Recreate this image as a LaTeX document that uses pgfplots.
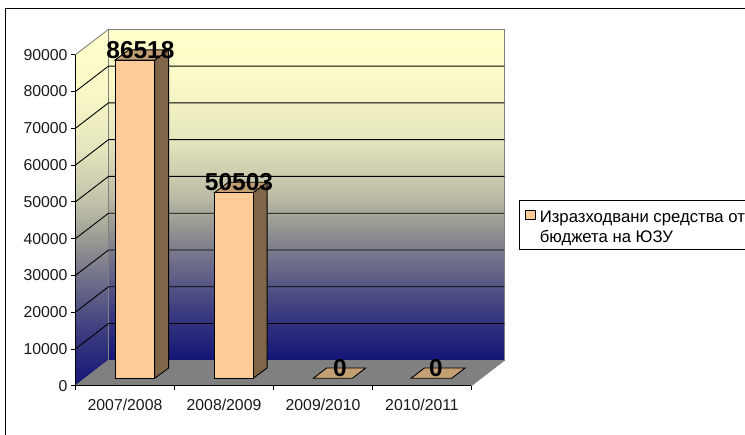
\documentclass[border=0pt]{standalone}
\usepackage{pgfplots}
\pgfplotsset{compat=1.18}
\usepackage{fontspec}
\setmainfont{Liberation Sans}
\definecolor{barfront}{HTML}{FFCC99}
\definecolor{barside}{HTML}{806648}
\definecolor{bartop}{HTML}{C49F74}
\definecolor{wallgray}{HTML}{808080}
\definecolor{sA}{HTML}{FFFFCC}
\definecolor{sB}{HTML}{FAFAC8}
\definecolor{sC}{HTML}{E6E6BE}
\definecolor{sD}{HTML}{BDBDA6}
\definecolor{sE}{HTML}{959592}
\definecolor{sF}{HTML}{6F6F8A}
\definecolor{sG}{HTML}{3C3C80}
\definecolor{sH}{HTML}{141478}
\pgfdeclareverticalshading{wallshade}{100bp}{color(0bp)=(sH); color(25bp)=(sH); color(32.5bp)=(sG); color(40bp)=(sF); color(45bp)=(sE); color(50bp)=(sD); color(58.5bp)=(sC); color(67.5bp)=(sB); color(75bp)=(sA); color(100bp)=(sA)}
\begin{document}
\begin{tikzpicture}[x=1pt,y=1pt]
\useasboundingbox (0,0) rectangle (745,435);
\clip (0,0) rectangle (745,435);
\draw[black,line width=1.2pt] (5.7,-2) -- (5.7,426.4) -- (748,426.4);
\begin{axis}[
  at={(75.5pt,49.3pt)}, anchor=south west,
  scale only axis, width=396pt, height=331pt,
  xmin=0, xmax=4, ymin=0, ymax=90000,
  clip=false, axis on top,
  axis lines=left, axis line style={-,black,line width=0.9pt},
  xtick={0,1,2,3,4},
  xticklabels={2007/2008,2008/2009,2009/2010,2010/2011},
  x tick label as interval,
  x tick label style={yshift=-5.5pt},
  ytick={0,10000,20000,30000,40000,50000,60000,70000,80000,90000},
  tick align=outside, tick pos=left,
  major tick length=4.5pt,
  tick style={black,line width=0.8pt},
  ticklabel style={font=\fontsize{15.8}{18}\selectfont,text=black!90},
  /pgf/number format/assume math mode=true,
  /pgf/number format/1000 sep={},
  scaled y ticks=false,
  legend style={at={(axis cs:4.48,50492)},anchor=north west,draw=black,line width=0.8pt,
    font=\fontsize{16.7}{18}\selectfont,inner xsep=6pt,inner ysep=3pt,
    legend cell align=left,row sep=2.5pt,fill=white},
]
% walls and floor
\addplot[forget plot,draw=wallgray,line width=0.9pt,shade,shading=wallshade]
  coordinates {(0.3333,6900)(4.3333,6900)(4.3333,96900)(0.3333,96900)} --cycle;
\addplot[forget plot,draw=wallgray,line width=0.9pt,shade,shading=wallshade]
  coordinates {(0,0)(0.3333,6900)(0.3333,96900)(0,90000)} --cycle;
\addplot[forget plot,draw=wallgray,line width=0.6pt,fill=wallgray]
  coordinates {(0,0)(4,0)(4.3333,6900)(0.3333,6900)} --cycle;
% grid
\addplot[forget plot,black,line width=0.9pt] coordinates {(0,10000)(0.3333,16900)(4.3333,16900)};
\addplot[forget plot,black,line width=0.9pt] coordinates {(0,20000)(0.3333,26900)(4.3333,26900)};
\addplot[forget plot,black,line width=0.9pt] coordinates {(0,30000)(0.3333,36900)(4.3333,36900)};
\addplot[forget plot,black,line width=0.9pt] coordinates {(0,40000)(0.3333,46900)(4.3333,46900)};
\addplot[forget plot,black,line width=0.9pt] coordinates {(0,50000)(0.3333,56900)(4.3333,56900)};
\addplot[forget plot,black,line width=0.9pt] coordinates {(0,60000)(0.3333,66900)(4.3333,66900)};
\addplot[forget plot,black,line width=0.9pt] coordinates {(0,70000)(0.3333,76900)(4.3333,76900)};
\addplot[forget plot,black,line width=0.9pt] coordinates {(0,80000)(0.3333,86900)(4.3333,86900)};
% bar 1: value 86518 on a base at 2012
\addplot[forget plot,draw=black,line width=0.9pt,fill=barside]
  coordinates {(0.80,2012)(0.94,4800)(0.94,91330)(0.80,88530)} --cycle;
\addplot[forget plot,draw=black,line width=0.9pt,fill=bartop]
  coordinates {(0.399,88530)(0.80,88530)(0.94,91330)(0.539,91330)} --cycle;
\addplot[forget plot,draw=black,line width=0.9pt,fill=barfront]
  coordinates {(0.399,2012)(0.80,2012)(0.80,88530)(0.399,88530)} --cycle;
% bar 2: value 50503
\addplot[forget plot,draw=black,line width=0.9pt,fill=barside]
  coordinates {(1.795,2012)(1.935,4800)(1.935,55315)(1.795,52515)} --cycle;
\addplot[forget plot,draw=black,line width=0.9pt,fill=bartop]
  coordinates {(1.405,52515)(1.795,52515)(1.935,55315)(1.545,55315)} --cycle;
\addplot[forget plot,draw=black,line width=0.9pt,fill=barfront]
  coordinates {(1.405,2012)(1.795,2012)(1.795,52515)(1.405,52515)} --cycle;
% bars 3 and 4: value 0
\addplot[forget plot,draw=black,line width=0.9pt,fill=bartop]
  coordinates {(2.402,2012)(2.796,2012)(2.931,4800)(2.537,4800)} --cycle;
\addplot[forget plot,draw=black,line width=0.9pt,fill=bartop]
  coordinates {(3.389,2012)(3.80,2012)(3.935,4800)(3.524,4800)} --cycle;
% data labels
\addplot[forget plot,draw=none,mark=none,point meta=explicit symbolic,
  nodes near coords,
  nodes near coords style={anchor=center,inner sep=0pt,text=black,font=\fontsize{24.5}{26}\selectfont\bfseries}]
  coordinates {(0.656,91249)[86518] (1.652,55234)[50503] (2.672,4731)[0] (3.641,4731)[0]};
% legend
\addlegendimage{legend image code/.code={\path[draw=none] (0,0) -- (12pt,0);\draw[black,line width=0.8pt,fill=barfront] (0pt,-5pt) rectangle (10pt,4.5pt);}}
\addlegendentry{\rule{0pt}{17pt}Изразходвани средства от}
\addlegendimage{legend image code/.code={}}
\addlegendentry{бюджета на ЮЗУ}
\end{axis}
\end{tikzpicture}
\end{document}
